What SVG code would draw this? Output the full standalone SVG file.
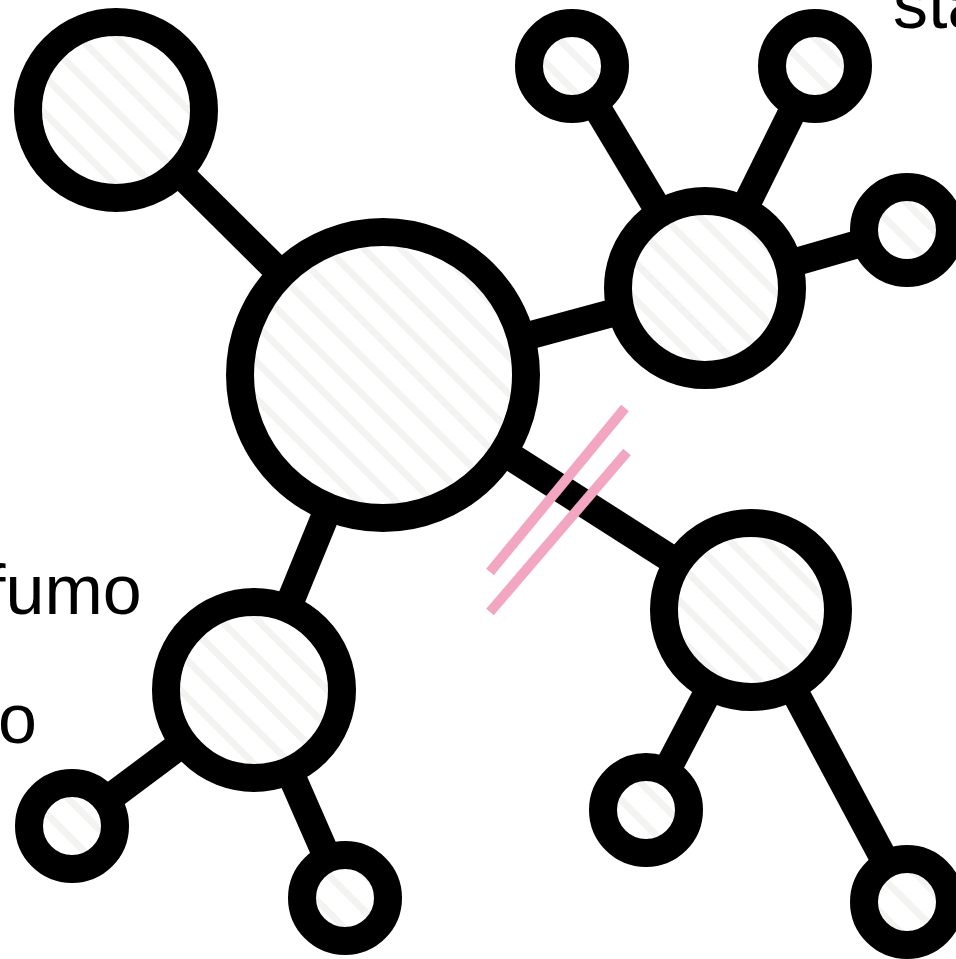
<svg xmlns="http://www.w3.org/2000/svg" width="956" height="959" viewBox="0 0 956 959">
<defs>
<pattern id="hatch" width="26" height="26" patternUnits="userSpaceOnUse" patternTransform="rotate(-45)">
<rect width="26" height="26" fill="#ffffff"/>
<rect width="7" height="26" fill="#f3f3f2"/>
</pattern>
</defs>
<style>
.edge{stroke:#000;stroke-width:28;fill:none}
.node{fill:url(#hatch);stroke:#000;stroke-width:28}
.pink{stroke:#f2a6c1;stroke-width:10;fill:none}
.lbl{font-family:"Liberation Sans",Arial,sans-serif;font-size:70px;fill:#000}
</style>
<rect width="956" height="959" fill="#fff"/>
<g id="connectors">
<line class="edge" x1="116" y1="110" x2="383" y2="375"/>
<line class="edge" x1="383" y1="375" x2="705" y2="288"/>
<line class="edge" x1="705" y1="288" x2="572" y2="66"/>
<line class="edge" x1="705" y1="288" x2="815" y2="66"/>
<line class="edge" x1="705" y1="288" x2="907" y2="230"/>
<line class="edge" x1="383" y1="375" x2="751" y2="610"/>
<line class="edge" x1="751" y1="610" x2="646" y2="810"/>
<line class="edge" x1="751" y1="610" x2="907" y2="902"/>
<line class="edge" x1="383" y1="375" x2="254" y2="690"/>
<line class="edge" x1="254" y1="690" x2="72" y2="826"/>
<line class="edge" x1="254" y1="690" x2="345" y2="898"/>
</g>
<g id="n-center"><circle class="node" cx="383" cy="375" r="143"/></g>
<g id="n-topleft"><circle class="node" cx="116" cy="110" r="88"/></g>
<g id="n-topright"><circle class="node" cx="705" cy="288" r="87"/></g>
<g id="n-tr-a"><circle class="node" cx="572" cy="66" r="43"/></g>
<g id="n-tr-b"><circle class="node" cx="815" cy="66" r="43"/></g>
<g id="n-tr-c"><circle class="node" cx="907" cy="230" r="43"/></g>
<g id="n-bottomright"><circle class="node" cx="751" cy="610" r="87"/></g>
<g id="n-br-a"><circle class="node" cx="646" cy="810" r="43"/></g>
<g id="n-br-b"><circle class="node" cx="907" cy="902" r="43"/></g>
<g id="n-bottomleft"><circle class="node" cx="254" cy="690" r="88"/></g>
<g id="n-bl-a"><circle class="node" cx="72" cy="826" r="43"/></g>
<g id="n-bl-b"><circle class="node" cx="345" cy="898" r="43"/></g>
<g id="cut">
<line class="pink" x1="625" y1="408" x2="490" y2="572"/>
<line class="pink" x1="627" y1="452" x2="490" y2="612"/>
</g>
<g id="labels">
<text class="lbl" x="893" y="28">sta</text>
<text class="lbl" x="-14" y="614">fumo</text>
<text class="lbl" x="-2" y="743">o</text>
</g>
</svg>
